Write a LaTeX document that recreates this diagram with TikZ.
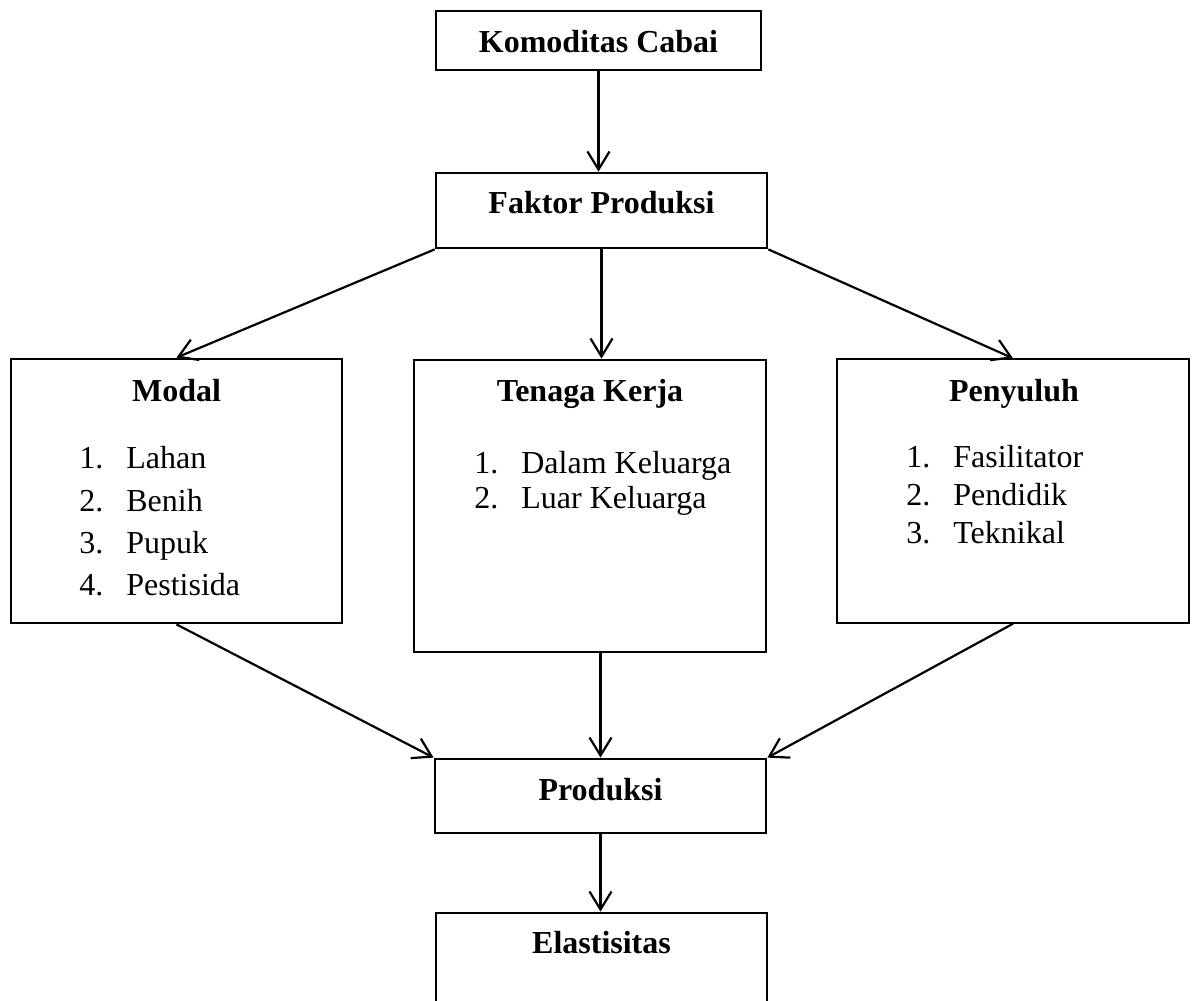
\documentclass[tikz,border=0pt]{standalone}
\usepackage{fontspec}
\setmainfont{Liberation Serif}
\usetikzlibrary{arrows.meta,positioning}

\tikzset{
  kotak/.style={draw, line width=1.4pt, inner sep=0pt},
  judul/.style={anchor=base, inner sep=0pt, font=\fontsize{16}{19}\selectfont\bfseries},
  butir/.style={anchor=base west, inner sep=0pt, font=\fontsize{16}{19}\selectfont},
  panah/.style={-{Straight Barb[length=9pt,width=11pt]}, line width=1.1pt}
}
\newcommand{\nomor}[2]{\makebox[23.5pt][l]{#1}#2}

\begin{document}
\begin{tikzpicture}[x=0.5pt,y=-0.5pt]
        \clip (0,0) rectangle (1200,1001);

        % Draw boxes
        \node[kotak, minimum width=162.5pt, minimum height=29.5pt] (komoditas) at (598.5,40.5) {};
        \node[kotak, minimum width=165.5pt, minimum height=37.5pt] (faktor) at (601.5,210.5) {};
        \node[kotak, minimum width=165.5pt, minimum height=132pt] (modal) at (176.5,491) {};
        \node[kotak, minimum width=176pt, minimum height=146pt] (tenaga) at (590,506) {};
        \node[kotak, line width=0.7pt, minimum width=176pt, minimum height=132pt] (penyuluh) at (1013,491) {};
        \node[kotak, minimum width=165.5pt, minimum height=37pt] (produksi) at (600.5,796) {};
        \node[kotak, minimum width=165.5pt, minimum height=50pt] (elastisitas) at (601.5,963) {};

        % Titles
        \node[judul] (tkomoditas) at (598.5,52) {Komoditas Cabai};
        \node[judul] (tfaktor) at (601.5,213) {Faktor Produksi};
        \node[judul] (tmodal) at (176.5,401) {Modal};
        \node[judul] (ttenaga) at (590,401) {Tenaga Kerja};
        \node[judul] (tpenyuluh) at (1014,401) {Penyuluh};
        \node[judul] (tproduksi) at (600.5,800) {Produksi};
        \node[judul] (telastisitas) at (601.5,953) {Elastisitas};

        % Lists
        \node[butir] (m1) at (79,468) {\nomor{1.}{Lahan}};
        \node[butir] (m2) at (79,511) {\nomor{2.}{Benih}};
        \node[butir] (m3) at (79,553) {\nomor{3.}{Pupuk}};
        \node[butir] (m4) at (79,595) {\nomor{4.}{Pestisida}};
        \node[butir] (k1) at (474,473) {\nomor{1.}{Dalam Keluarga}};
        \node[butir] (k2) at (474,508) {\nomor{2.}{Luar Keluarga}};
        \node[butir] (p1) at (906,467) {\nomor{1.}{Fasilitator}};
        \node[butir] (p2) at (906,505) {\nomor{2.}{Pendidik}};
        \node[butir] (p3) at (906,543) {\nomor{3.}{Teknikal}};

        % Arrows
        \draw[panah] (komoditas.south) -- (komoditas.south |- faktor.north);
        \draw[panah] (faktor.south west) -- (modal.north);
        \draw[panah] (faktor.south) -- (faktor.south |- tenaga.north);
        \draw[panah] (faktor.south east) -- (penyuluh.north);
        \draw[panah] (modal.south) -- (produksi.north west);
        \draw[panah] (tenaga.south -| produksi.north) -- (produksi.north);
        \draw[panah] (penyuluh.south) -- (produksi.north east);
        \draw[panah] (produksi.south) -- (produksi.south |- elastisitas.north);

    \end{tikzpicture}
\end{document}
